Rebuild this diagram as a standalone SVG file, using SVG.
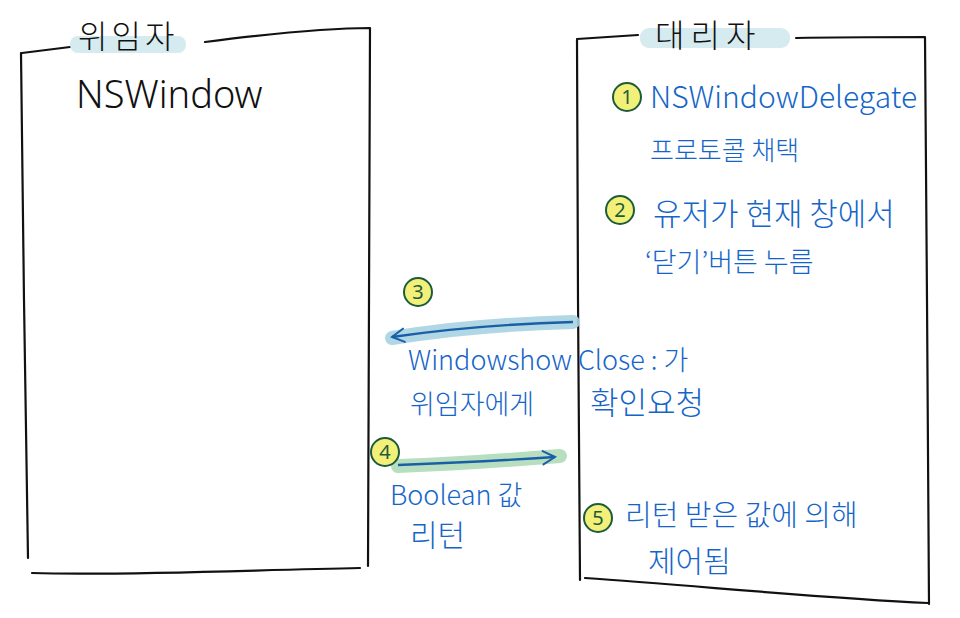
<svg xmlns="http://www.w3.org/2000/svg" width="960" height="618" viewBox="0 0 960 618">
<defs>
<style>
.box{fill:none;stroke:#111;stroke-width:2.2;stroke-linecap:round;stroke-linejoin:round}
.ttl{font-family:"Noto Sans CJK KR","Noto Sans",sans-serif;font-size:32px;fill:#111;font-weight:300;letter-spacing:4px}
.big{font-family:"Noto Sans","Noto Sans CJK KR",sans-serif;font-size:38px;fill:#111;font-weight:300}
.t{font-family:"Noto Sans CJK KR","Noto Sans",sans-serif;font-size:27px;fill:#1565c8;font-weight:300}
.hl{fill:#d6ebef}
.num circle{fill:#f3f07a;stroke:#1d5c3a;stroke-width:2}
.num text{font-family:"Noto Sans",sans-serif;font-size:20px;fill:#1d5c3a;text-anchor:middle}
</style>
<marker id="ah" viewBox="0 0 12 12" refX="10" refY="6" markerWidth="16" markerHeight="16" markerUnits="userSpaceOnUse" orient="auto">
<path d="M1 1 L10 6 L1 11" fill="none" stroke="#1a5ea8" stroke-width="1.5" stroke-linecap="round"/>
</marker>
</defs>
<rect width="960" height="618" fill="#fff"/>

<g id="delegator">
<path class="box" d="M22 53 L70 47 M205 42 C260 35 330 28 370 28 L369 300 L368 566 M21 53 L24 300 L28 558 M32 573 C120 576 250 570 360 568"/>
<rect class="hl" x="70" y="36" width="116" height="17" rx="8"/>
<text class="ttl" x="78" y="48">위임자</text>
<text class="big" x="76" y="108">NSWindow</text>
</g>

<g id="delegate">
<path class="box" d="M577 39 L638 35 M796 38 C840 37 890 37 925 37 L927 300 L929 604 M577 40 L578 300 L580 580 M585 578 C700 586 820 598 928 603"/>
<rect class="hl" x="640" y="28" width="150" height="20" rx="9"/>
<text class="ttl" x="655" y="47" style="letter-spacing:6px">대리자</text>
<g class="num"><circle cx="627" cy="97" r="14"/><text x="627" y="104">1</text></g>
<text class="t" x="650" y="108" style="font-size:30px">NSWindowDelegate</text>
<text class="t" x="650" y="160" style="font-size:26px">프로토콜 채택</text>
<g class="num"><circle cx="620" cy="210" r="14"/><text x="620" y="217">2</text></g>
<text class="t" x="653" y="225" style="font-size:31px">유저가 현재 창에서</text>
<text class="t" x="645" y="272">‘닫기’버튼 누름</text>
<g class="num"><circle cx="598" cy="518" r="14"/><text x="598" y="525">5</text></g>
<text class="t" x="625" y="526" style="font-size:29px">리턴 받은 값에 의해</text>
<text class="t" x="648" y="572" style="font-size:30px">제어됨</text>
</g>

<g id="connectors">
<path d="M573 322 C500 324 440 330 392 338" fill="none" stroke="#a8d3e2" stroke-width="14" stroke-linecap="round" opacity="0.9"/>
<path d="M573 322 C500 324 440 330 392 337" fill="none" stroke="#1a5ea8" stroke-width="2.4" marker-end="url(#ah)"/>
<path d="M398 466 C450 464 510 460 560 456" fill="none" stroke="#b7dfbf" stroke-width="14" stroke-linecap="round"/>
<path d="M398 465 C450 463 510 460 555 457" fill="none" stroke="#1a5ea8" stroke-width="2.4" marker-end="url(#ah)"/>
</g>

<g id="step3">
<g class="num"><circle cx="418" cy="292" r="14"/><text x="418" y="299">3</text></g>
<text class="t" x="408" y="370">Windowshow Close : 가</text>
<text class="t" x="410" y="414">위임자에게</text>
<text class="t" x="590" y="414" style="font-size:31px">확인요청</text>
</g>

<g id="step4">
<g class="num"><circle cx="385" cy="452" r="14"/><text x="385" y="459">4</text></g>
<text class="t" x="390" y="505">Boolean 값</text>
<text class="t" x="410" y="546" style="font-size:30px">리턴</text>
</g>
</svg>
